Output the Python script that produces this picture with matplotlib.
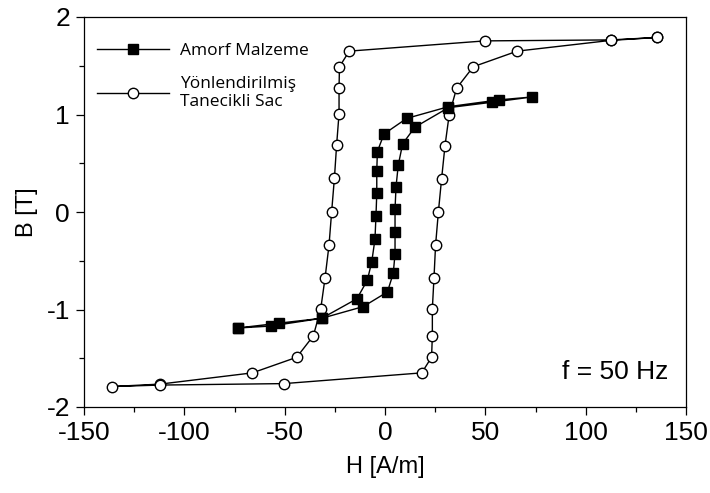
import matplotlib
matplotlib.use("Agg")
import matplotlib.pyplot as plt
from matplotlib.ticker import MultipleLocator

plt.rcParams['font.family'] = ['Liberation Sans', 'DejaVu Sans']
plt.rcParams['axes.unicode_minus'] = False

# amorphous material loop (filled squares)
amorf_h = [-73.5, -57.0, -31.5, -10.8, 1.2, 4.1, 5.0, 5.0, 5.0, 5.5, 6.6, 8.8, 14.9, 31.6, 53.1, 73.4,
           56.8, 31.6, 10.8, -0.5, -3.8, -4.1, -4.1, -4.5, -5.0, -6.6, -8.8, -14.0, -31.5, -52.8, -73.5]
amorf_b = [-1.19, -1.17, -1.09, -0.97, -0.82, -0.63, -0.43, -0.21, 0.03, 0.26, 0.48, 0.70, 0.87, 1.07, 1.125, 1.18,
           1.15, 1.08, 0.96, 0.80, 0.62, 0.42, 0.19, -0.04, -0.28, -0.51, -0.70, -0.89, -1.09, -1.14, -1.19]

# grain oriented steel loop (open circles)
gos_h = [135.6, 112.4, 49.8, -17.8, -22.7, -22.9, -22.9, -24.1, -25.2, -26.6, -27.9, -29.9, -32.0, -35.7, -44.0,
         -66.1, -112.0, -135.8,
         -112.0, -50.3, 18.3, 23.2, 23.6, 23.6, 24.4, 25.2, 26.6, 28.2, 29.9, 32.0, 35.7, 44.0, 65.9, 112.4, 135.6]
gos_b = [1.79, 1.765, 1.755, 1.65, 1.49, 1.27, 1.01, 0.69, 0.35, 0.0, -0.34, -0.68, -0.99, -1.27, -1.49,
         -1.65, -1.765, -1.79,
         -1.775, -1.76, -1.65, -1.49, -1.27, -0.99, -0.68, -0.34, 0.0, 0.34, 0.68, 1.0, 1.27, 1.49, 1.65, 1.76, 1.79]

labels = ["Amorf Malzeme", "Yönlendirilmiş\nTanecikli Sac"]

fig = plt.figure(figsize=(7.1, 4.93), dpi=100)
ax = fig.add_axes([84 / 710, 86 / 493, 602 / 710, 390 / 493])

ax.plot(gos_h, gos_b, color="black", lw=1.0, marker="o", ms=7.5,
        mfc="white", mec="black", mew=1.0, label=labels[1], zorder=2)
ax.plot(amorf_h, amorf_b, color="black", lw=1.0, marker="s", ms=7,
        mfc="black", mec="black", label=labels[0], zorder=3)

ax.set_xlim(-150, 150)
ax.set_ylim(-2, 2)
ax.xaxis.set_major_locator(MultipleLocator(50))
ax.xaxis.set_minor_locator(MultipleLocator(25))
ax.yaxis.set_major_locator(MultipleLocator(1))
ax.yaxis.set_minor_locator(MultipleLocator(0.5))
ax.tick_params(which="major", direction="out", length=6, width=0.9, labelsize=19, pad=4)
ax.tick_params(which="minor", direction="out", length=3.5, width=0.9)
for s in ax.spines.values():
    s.set_linewidth(0.9)

ax.set_xlabel("H [A/m]", fontsize=17, labelpad=8)
ax.set_ylabel("B [T]", fontsize=17, labelpad=6)

ax.text(0.97, 0.072, "f = 50 Hz", transform=ax.transAxes, ha="right", va="baseline", fontsize=19)

h, l = ax.get_legend_handles_labels()
leg = ax.legend(h[::-1], l[::-1], loc="upper left", bbox_to_anchor=(-0.008, 0.978), frameon=False,
                handlelength=4.2, handletextpad=0.6, labelspacing=0.95, borderaxespad=0.6,
                prop={"family": "Open Sans", "size": 12.5})

fig.savefig("out.png", dpi=100)
